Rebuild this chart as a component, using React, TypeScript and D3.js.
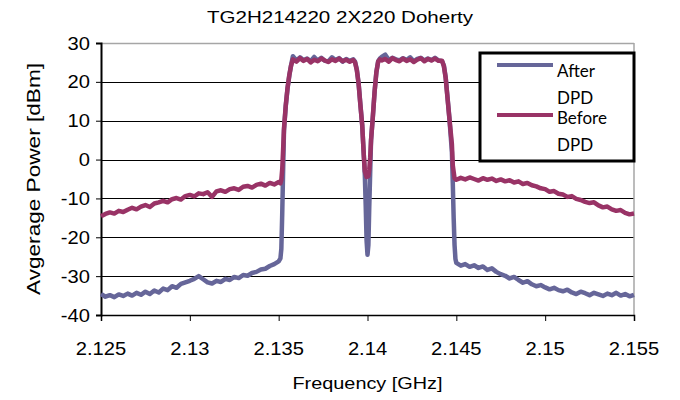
import React, { useEffect, useRef } from "react";
import * as d3 from "d3";

// spectrum: [frequency GHz, power dBm]
const afterDPD: [number, number][] = [
  [2.125, -34.6], [2.12525, -35.3], [2.1255, -34.9], [2.12575, -35.4], [2.126, -34.7], [2.12625, -35.1],
  [2.1265, -34.5], [2.12675, -35.0], [2.127, -34.3], [2.12725, -34.8], [2.1275, -34.0], [2.12775, -34.6],
  [2.128, -33.7], [2.12825, -34.2], [2.1285, -33.2], [2.12875, -33.6], [2.129, -32.6], [2.12925, -33.0],
  [2.1295, -32.0], [2.12975, -31.6], [2.13, -31.2], [2.13025, -30.7], [2.1305, -30.0], [2.13075, -30.8],
  [2.131, -31.6], [2.13125, -31.9], [2.1315, -31.2], [2.13175, -31.5], [2.132, -30.7], [2.13225, -31.0],
  [2.1325, -30.2], [2.13275, -30.5], [2.133, -29.7], [2.13325, -29.9], [2.1335, -29.2], [2.13375, -28.9],
  [2.134, -28.3], [2.13425, -28.1], [2.1345, -27.4], [2.13475, -26.9], [2.135, -26.2], [2.1351, -25.4],
  [2.13515, -23.0], [2.1352, -14.0], [2.13525, -3.0], [2.1353, 7.5], [2.1354, 13.8], [2.1355, 18.3],
  [2.1356, 21.6], [2.1357, 24.3],
  [2.1358, 26.6], [2.136, 25.5], [2.1362, 26.3], [2.1364, 25.6], [2.1366, 26.0], [2.1368, 25.3],
  [2.137, 26.4], [2.1372, 25.5], [2.1374, 26.2], [2.1376, 25.4], [2.1378, 25.3], [2.138, 26.3],
  [2.1382, 25.6], [2.1384, 26.1], [2.1386, 25.2], [2.1388, 25.9], [2.139, 25.4], [2.1392, 25.8],
  [2.1393, 25.2], [2.1394, 23.2], [2.1395, 19.6], [2.1396, 14.2], [2.1397, 9.0], [2.1398, 0.5],
  [2.13985, -4.0], [2.1399, -12.0], [2.13995, -21.0], [2.14, -24.5], [2.14005, -22.0], [2.1401, -12.0],
  [2.14015, -3.5], [2.1402, 5.0], [2.1403, 11.0], [2.1404, 17.5], [2.1405, 22.5], [2.1406, 25.3],
  [2.1407, 26.0],
  [2.1408, 26.4], [2.141, 27.0], [2.1412, 25.6], [2.1414, 26.2], [2.1416, 25.8], [2.1418, 25.5],
  [2.142, 26.1], [2.1422, 25.6], [2.1424, 26.3], [2.1426, 25.3], [2.1428, 25.9], [2.143, 26.2],
  [2.1432, 25.5], [2.1434, 26.0], [2.1436, 25.6], [2.1438, 26.2], [2.144, 25.5], [2.1442, 25.3],
  [2.1443, 24.2], [2.1444, 21.2], [2.1445, 16.2], [2.1446, 11.2], [2.14475, 2.0], [2.1448, -6.0],
  [2.14485, -15.0], [2.1449, -22.0], [2.14495, -25.6],
  [2.145, -26.6], [2.14525, -27.3], [2.1455, -26.9], [2.14575, -27.6], [2.146, -27.2], [2.14625, -27.9],
  [2.1465, -27.5], [2.14675, -28.4], [2.147, -28.0], [2.14725, -28.9], [2.1475, -29.5], [2.14775, -29.9],
  [2.148, -30.6], [2.14825, -30.2], [2.1485, -31.0], [2.14875, -31.7], [2.149, -31.3], [2.14925, -32.1],
  [2.1495, -32.6], [2.14975, -32.3], [2.15, -32.9], [2.15025, -33.4], [2.1505, -33.0], [2.15075, -33.6],
  [2.151, -33.9], [2.15125, -33.5], [2.1515, -34.2], [2.15175, -34.6], [2.152, -34.0], [2.15225, -34.4],
  [2.1525, -34.9], [2.15275, -34.3], [2.153, -34.7], [2.15325, -35.1], [2.1535, -34.5], [2.15375, -34.9],
  [2.154, -34.3], [2.15425, -35.0], [2.1545, -34.6], [2.15475, -35.2], [2.155, -34.8],
];

const beforeDPD: [number, number][] = [
  [2.125, -14.6], [2.12525, -14.0], [2.1255, -13.6], [2.12575, -13.9], [2.126, -13.2], [2.12625, -13.5],
  [2.1265, -12.9], [2.12675, -12.4], [2.127, -12.8], [2.12725, -12.1], [2.1275, -11.7], [2.12775, -12.2],
  [2.128, -11.3], [2.12825, -11.0], [2.1285, -10.6], [2.12875, -11.0], [2.129, -10.2], [2.12925, -9.9],
  [2.1295, -10.3], [2.12975, -9.4], [2.13, -9.1], [2.13025, -9.5], [2.1305, -8.7], [2.13075, -8.9],
  [2.131, -8.4], [2.13125, -9.6], [2.1315, -8.2], [2.13175, -7.9], [2.132, -8.3], [2.13225, -7.6],
  [2.1325, -7.4], [2.13275, -7.8], [2.133, -7.0], [2.13325, -6.8], [2.1335, -7.2], [2.13375, -6.5],
  [2.134, -6.2], [2.13425, -6.7], [2.1345, -6.0], [2.13475, -6.4], [2.135, -5.8], [2.1351, -6.1],
  [2.13515, -5.2], [2.1352, -2.5], [2.13525, 2.5], [2.1353, 8.0], [2.1354, 14.0], [2.1355, 18.5],
  [2.1356, 21.8], [2.1357, 24.2],
  [2.1358, 25.8], [2.136, 25.2], [2.1362, 26.1], [2.1364, 25.4], [2.1366, 25.9], [2.1368, 25.0],
  [2.137, 25.7], [2.1372, 25.3], [2.1374, 26.0], [2.1376, 25.5], [2.1378, 25.1], [2.138, 25.8],
  [2.1382, 25.4], [2.1384, 26.0], [2.1386, 25.3], [2.1388, 25.7], [2.139, 25.2], [2.1392, 25.6],
  [2.1393, 25.0], [2.1394, 23.0], [2.1395, 19.5], [2.1396, 14.0], [2.1397, 9.0], [2.1398, 0.5],
  [2.13985, -3.0], [2.13995, -4.5], [2.14005, -4.3], [2.1401, -2.5], [2.14015, 0.5], [2.1402, 5.0],
  [2.1403, 11.0], [2.1404, 17.5], [2.1405, 22.5], [2.1406, 25.2], [2.1407, 25.8],
  [2.1408, 25.5], [2.141, 25.9], [2.1412, 25.2], [2.1414, 26.1], [2.1416, 25.6], [2.1418, 25.3],
  [2.142, 26.0], [2.1422, 25.4], [2.1424, 25.8], [2.1426, 25.1], [2.1428, 25.7], [2.143, 26.1],
  [2.1432, 25.3], [2.1434, 25.9], [2.1436, 25.5], [2.1438, 26.0], [2.144, 25.4], [2.1442, 25.4],
  [2.1443, 24.0], [2.1444, 21.0], [2.1445, 16.0], [2.1446, 11.0], [2.14475, 4.0], [2.1448, -1.5],
  [2.1449, -4.8],
  [2.145, -5.2], [2.14525, -4.7], [2.1455, -5.1], [2.14575, -4.6], [2.146, -5.0], [2.14625, -5.4],
  [2.1465, -4.8], [2.14675, -5.2], [2.147, -4.9], [2.14725, -5.5], [2.1475, -5.1], [2.14775, -5.6],
  [2.148, -5.3], [2.14825, -5.9], [2.1485, -5.6], [2.14875, -6.3], [2.149, -6.0], [2.14925, -6.6],
  [2.1495, -6.9], [2.14975, -7.4], [2.15, -7.6], [2.15025, -8.3], [2.1505, -8.1], [2.15075, -8.8],
  [2.151, -9.0], [2.15125, -9.6], [2.1515, -9.4], [2.15175, -10.1], [2.152, -10.4], [2.15225, -10.9],
  [2.1525, -11.2], [2.15275, -11.0], [2.153, -11.8], [2.15325, -12.3], [2.1535, -12.1], [2.15375, -12.8],
  [2.154, -13.2], [2.15425, -13.0], [2.1545, -13.7], [2.15475, -14.1], [2.155, -13.9],
];

const xTicks = [2.125, 2.13, 2.135, 2.14, 2.145, 2.15, 2.155];
const yTicks = [-40, -30, -20, -10, 0, 10, 20, 30];
const seriesColors = ["#666699", "#993366"];

const W = 680, H = 400;
const margin = { top: 43, right: 46, bottom: 85, left: 101 };
const font = "'Liberation Sans', Arial, sans-serif";

export default function App() {
  const ref = useRef<SVGSVGElement>(null);

  useEffect(() => {
    const svg = d3.select(ref.current);
    svg.selectAll("*").remove();
    const w = W - margin.left - margin.right;
    const h = H - margin.top - margin.bottom;

    const x = d3.scaleLinear().domain([2.125, 2.155]).range([0, w]);
    const y = d3.scaleLinear().domain([-40, 30]).range([h, 0]);

    const g = svg.append("g").attr("transform", `translate(${margin.left},${margin.top})`);

    // gridlines
    g.selectAll(".grid").data(yTicks.filter(t => t > -40)).join("line")
      .attr("class", "grid")
      .attr("x1", 0).attr("x2", w)
      .attr("y1", d => Math.round(y(d)) + 0.5).attr("y2", d => Math.round(y(d)) + 0.5)
      .attr("stroke", d => (d === 30 ? "#a6a6a6" : "#000"))
      .attr("stroke-width", d => (d === 30 ? 1.5 : 1));
    g.append("line").attr("x1", w).attr("x2", w).attr("y1", 0).attr("y2", h)
      .attr("stroke", "#a6a6a6").attr("stroke-width", 1.5);

    // axes
    const xAxis = g.append("g").attr("transform", `translate(0,${h})`)
      .call(d3.axisBottom(x).tickValues(xTicks).tickSize(6).tickFormat(() => ""));
    xAxis.select(".domain").attr("stroke", "#000").attr("stroke-width", 1.5);
    xAxis.selectAll(".tick line").attr("stroke", "#000");

    const yAxis = g.append("g")
      .call(d3.axisLeft(y).tickValues(yTicks).tickSize(5).tickFormat(() => ""));
    yAxis.select(".domain").attr("stroke", "#000").attr("stroke-width", 2);
    yAxis.selectAll(".tick line").attr("stroke", "#000");

    // tick labels, stretched a bit horizontally like the original
    g.selectAll(".xlab").data(xTicks).join("text")
      .attr("class", "xlab")
      .attr("transform", d => `translate(${x(d)},${h + 40}) scale(1.12,1)`)
      .attr("text-anchor", "middle")
      .style("font-family", font).style("font-size", "18px")
      .text(d => d3.format("")(d));

    g.selectAll(".ylab").data(yTicks).join("text")
      .attr("class", "ylab")
      .attr("transform", d => `translate(-11,${y(d) + 6.5}) scale(1.12,1)`)
      .attr("text-anchor", "end")
      .style("font-family", font).style("font-size", "18px")
      .text(d => d);

    // series
    const line = d3.line<[number, number]>().x(d => x(d[0])).y(d => y(d[1]));
    [afterDPD, beforeDPD].forEach((s, i) => {
      g.append("path").datum(s)
        .attr("d", line)
        .attr("fill", "none")
        .attr("stroke", seriesColors[i])
        .attr("stroke-width", 4.5)
        .attr("stroke-linejoin", "round");
    });

    // legend
    const lg = svg.append("g").attr("transform", "translate(480,53)");
    lg.append("rect").attr("width", 154).attr("height", 108)
      .attr("fill", "#fff").attr("stroke", "#000").attr("stroke-width", 3);
    const rows = [
      { dy: 12, lines: ["After", "DPD"], base: [24, 51] },
      { dy: 62, lines: ["Before", "DPD"], base: [71, 98] },
    ];
    rows.forEach((r, i) => {
      lg.append("line").attr("x1", 17).attr("x2", 73).attr("y1", r.dy).attr("y2", r.dy)
        .attr("stroke", seriesColors[i]).attr("stroke-width", 4);
      r.lines.forEach((t, j) => {
        lg.append("text").attr("x", 77).attr("y", r.base[j])
          .style("font-family", "Lato, 'Open Sans', sans-serif").style("font-size", "17px")
          .text(t);
      });
    });

    // titles
    svg.append("text").attr("x", 340).attr("y", 23).attr("text-anchor", "middle")
      .attr("textLength", 266).attr("lengthAdjust", "spacingAndGlyphs")
      .style("font-family", font).style("font-size", "17px")
      .text("TG2H214220 2X220 Doherty");

    svg.append("text").attr("x", margin.left + w / 2).attr("y", 389).attr("text-anchor", "middle")
      .attr("textLength", 150).attr("lengthAdjust", "spacingAndGlyphs")
      .style("font-family", font).style("font-size", "17px")
      .text("Frequency [GHz]");

    svg.append("text")
      .attr("transform", `translate(40,${margin.top + h / 2}) rotate(-90)`)
      .attr("text-anchor", "middle")
      .attr("textLength", 232).attr("lengthAdjust", "spacingAndGlyphs")
      .style("font-family", font).style("font-size", "18px")
      .text("Avgerage Power [dBm]");
  }, []);

  return (
    <svg ref={ref} width={W} height={H}
      style={{ position: "absolute", left: 0, top: 0, background: "#fff" }} />
  );
}
